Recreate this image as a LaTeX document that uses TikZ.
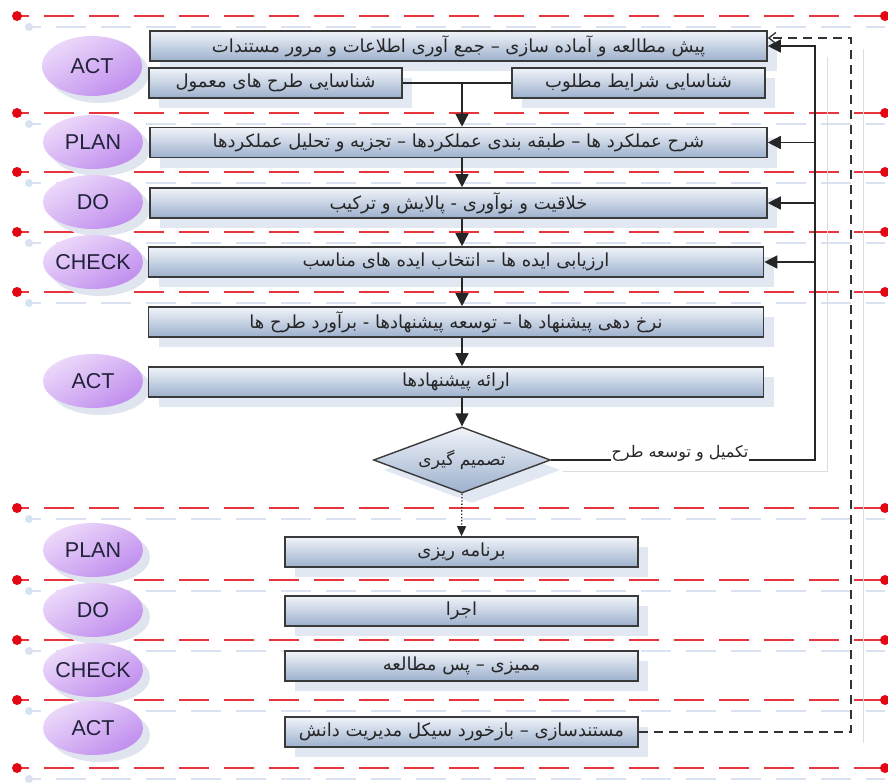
\documentclass[tikz,border=0pt]{standalone}
\usepackage{fontspec}
\usetikzlibrary{arrows.meta,shapes.geometric,shadows}
\TeXXeTstate=1
\newfontfamily\persianfont[Script=Arabic]{DejaVu Sans}
\newfontfamily\labelfont{Liberation Sans}
\newcommand\fatext[1]{{\persianfont\beginR #1\endR}}

\definecolor{laneRed}{HTML}{E8343C}
\definecolor{laneDot}{HTML}{E30613}
\definecolor{laneGhost}{HTML}{D8E2F0}
\definecolor{boxTop}{HTML}{F1F4F9}
\definecolor{boxBottom}{HTML}{9CB0CD}
\definecolor{boxEdge}{HTML}{3A3A3A}
\definecolor{boxShade}{HTML}{E2E8F1}
\definecolor{bubbleTop}{HTML}{ECD9FA}
\definecolor{bubbleBottom}{HTML}{C08EEE}
\definecolor{bubbleShade}{HTML}{E0E4EE}
\definecolor{bubbleText}{HTML}{22223A}
\definecolor{wireShade}{HTML}{DDDDDD}

\begin{document}
\begin{tikzpicture}[x=1pt,y=-1pt,
  lane/.style={laneRed,line width=1.6pt,dash pattern=on 30pt off 15pt,dash phase=18pt},
  laneshadow/.style={laneGhost,line width=1.2pt,dash pattern=on 30pt off 15pt,dash phase=18pt},
  stagebubble/.style={ellipse,minimum width=100pt,minimum height=54pt,inner xsep=-12pt,inner ysep=0pt,
    top color=bubbleTop,bottom color=bubbleBottom,shading angle=30,text=bubbleText,
    font=\labelfont\fontsize{21.5}{24}\selectfont,
    drop shadow={shadow xshift=7pt,shadow yshift=-7pt,fill=bubbleShade,opacity=1}},
  taskbox/.style={rectangle,draw=boxEdge,line width=1.6pt,minimum height=30pt,inner sep=0pt,
    top color=boxTop,bottom color=boxBottom,text=black!85,
    font=\persianfont\fontsize{18}{20}\selectfont,
    drop shadow={shadow xshift=10pt,shadow yshift=-10pt,fill=boxShade,opacity=1}},
  decision/.style={diamond,aspect=2.7,minimum width=177pt,minimum height=66pt,inner sep=0pt,
    draw=boxEdge,line width=1.4pt,top color=boxTop,bottom color=boxBottom,text=black!85,
    font=\persianfont\fontsize{17}{19}\selectfont,
    drop shadow={shadow xshift=10pt,shadow yshift=-10pt,fill=boxShade,opacity=1}},
  flow/.style={line width=1.5pt,black!85},
  arrow/.style={flow,-{Triangle[length=13pt,width=13pt]}},
  dotarrow/.style={line width=1.3pt,black!85,dotted,-{Triangle[length=10pt,width=9pt]}},
  dasharrow/.style={line width=1.3pt,black!80,dash pattern=on 9pt off 6pt,-{Straight Barb[length=7pt,width=11pt]}},
  wireshadow/.style={wireShade,line width=1pt}
]
\useasboundingbox[fill=white] (0,0) rectangle (888,782);

% faint echoes of the swimlane separators
\foreach \ly in {16,113,172,232,292,508,580,640,700,768}{
  \draw[laneshadow] (29,\ly+11) -- (885,\ly+11);
  \fill[laneGhost] (29,\ly+11) circle (4pt);
}
% swimlane separators
\foreach \ly in {16,113,172,232,292,508,580,640,700,768}{
  \draw[lane] (17,\ly) -- (885,\ly);
  \fill[laneDot] (17,\ly) circle (5pt);
  \fill[laneDot] (885,\ly) circle (5pt);
}

% PDCA stage bubbles
\node[stagebubble,minimum height=60pt] (s1) at (92,66) {ACT};
\node[stagebubble] (s2) at (93,142) {PLAN};
\node[stagebubble] (s3) at (93,202) {DO};
\node[stagebubble] (s4) at (93,262) {CHECK};
\node[stagebubble] (s5) at (93,381) {ACT};
\node[stagebubble] (s6) at (93,550) {PLAN};
\node[stagebubble] (s7) at (93,610) {DO};
\node[stagebubble] (s8) at (93,670) {CHECK};
\node[stagebubble] (s9) at (93,728) {ACT};

% process steps
\node[taskbox,minimum width=617pt] (b1) at (458.5,46) {\fatext{پیش مطالعه و آماده سازی – جمع آوری اطلاعات و مرور مستندات}};
\node[taskbox,minimum width=253pt] (b2) at (275.5,83) {\fatext{شناسایی طرح های معمول}};
\node[taskbox,minimum width=253pt] (b3) at (638.5,83) {\fatext{شناسایی شرایط مطلوب}};
\node[taskbox,minimum width=617pt] (b4) at (458.5,142.5) {\fatext{شرح عملکرد ها – طبقه بندی عملکردها – تجزیه و تحلیل عملکردها}};
\node[taskbox,minimum width=617pt] (b5) at (458.5,203) {\fatext{خلاقیت و نوآوری -  پالایش و ترکیب}};
\node[taskbox,minimum width=615pt] (b6) at (456,262) {\fatext{ارزیابی ایده ها – انتخاب ایده های مناسب}};
\node[taskbox,minimum width=615pt] (b7) at (456,322) {\fatext{نرخ دهی پیشنهاد ها – توسعه پیشنهادها - برآورد طرح ها}};
\node[taskbox,minimum width=615pt] (b8) at (456,382) {\fatext{ارائه پیشنهادها}};
\node[decision] (dec) at (462,460) {\fatext{تصمیم گیری}};
\node[taskbox,minimum width=353pt] (b9) at (461.5,552) {\fatext{برنامه ریزی}};
\node[taskbox,minimum width=353pt] (b10) at (461.5,611) {\fatext{اجرا}};
\node[taskbox,minimum width=353pt] (b11) at (461.5,666) {\fatext{ممیزی – پس مطالعه}};
\node[taskbox,minimum width=353pt] (b12) at (461.5,732) {\fatext{مستندسازی – بازخورد سیکل مدیریت دانش}};

% main flow
\coordinate (spine) at (462,83);
\draw[flow] (b2.east) -- (spine);
\draw[flow] (b3.west) -- (spine);
\draw[arrow] (spine) -- (spine |- b4.north);
\draw[arrow] (spine |- b4.south) -- (spine |- b5.north);
\draw[arrow] (spine |- b5.south) -- (spine |- b6.north);
\draw[arrow] (spine |- b6.south) -- (spine |- b7.north);
\draw[arrow] (spine |- b7.south) -- (spine |- b8.north);
\draw[arrow] (spine |- b8.south) -- (dec.north);
\draw[dotarrow] (dec.south) -- (b9.north);

% feedback loops
\coordinate (loop) at (815,0);
\coordinate (outer) at (851,0);
\coordinate (b1in) at ([yshift=8pt]b1.east);
\begin{scope}[transform canvas={shift={(12pt,-11pt)}}]
  \draw[wireshadow] (dec.east) -- (dec.east -| loop) -- (loop |- b1.east);
  \draw[wireshadow] (b12.east -| outer) -- (outer |- b1in);
\end{scope}
\draw[arrow] (dec.east) -- (dec.east -| loop) -- (loop |- b1.east) -- (b1.east);
\foreach \t in {b4,b5,b6} \draw[arrow] (loop |- \t.east) -- (\t.east);
\node[fill=white,inner sep=1pt,anchor=south,font=\persianfont\fontsize{16}{18}\selectfont,text=black!85] (fblabel) at (680,463) {\fatext{تکمیل و توسعه طرح}};
\draw[dasharrow] (b12.east) -- (b12.east -| outer) -- (outer |- b1in) -- (b1in);
\end{tikzpicture}
\end{document}
